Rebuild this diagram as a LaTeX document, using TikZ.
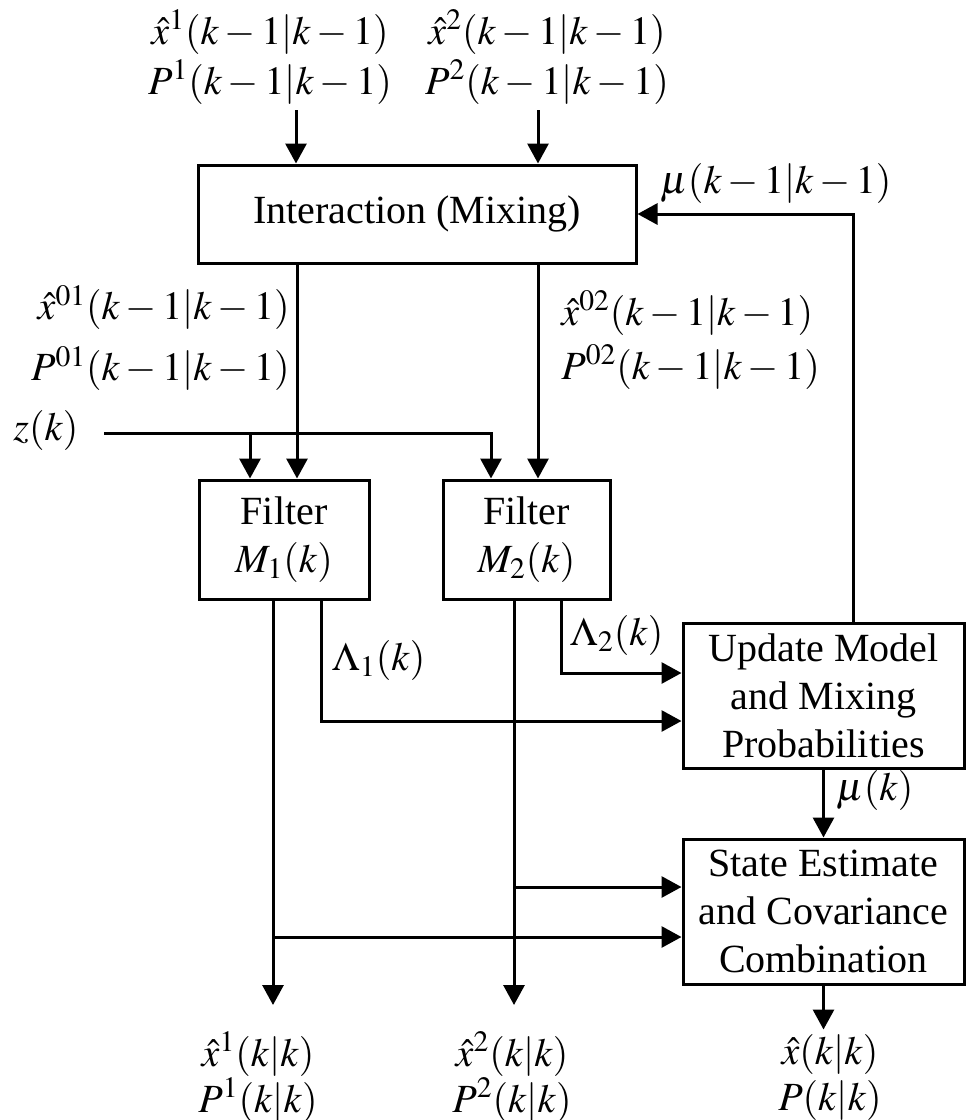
\documentclass[tikz,border=0pt]{standalone}
\usepackage{mathptmx}
\usepackage{fontspec}
\setmainfont{Liberation Serif}
\usepackage{tikz}
\usetikzlibrary{arrows.meta,positioning}

\begin{document}
\begin{tikzpicture}[
  x=0.5pt,y=-0.5pt,
  font=\fontsize{20}{24}\selectfont,
  block/.style={rectangle,draw,line width=1.5pt,align=center,inner sep=0pt},
  lbl/.style={inner sep=0pt,align=center},
  arrow/.style={-{Triangle[length=10pt,width=10.5pt]},line width=1.5pt}
]
\useasboundingbox (0,0) rectangle (966,1120);
\node[block,minimum width=219pt,minimum height=49pt] (mix) at (417,214) {Interaction (Mixing)};
\node[block,minimum width=85pt,minimum height=59.5pt] (filA) at (284,539.5) {Filter\\$M_1(k)$};
\node[block,minimum width=83.5pt,minimum height=59.5pt] (filB) at (526.5,539.5) {Filter\\$M_2(k)$};
\node[block,minimum width=140.5pt,minimum height=72.5pt] (upd) at (823.5,695.5) {Update Model\\and Mixing\\Probabilities};
\node[block,minimum width=140.5pt,minimum height=72.5pt] (est) at (823.5,911.5) {State Estimate\\and Covariance\\Combination};
\node[lbl] (inA) at (270,57) {$\hat{x}^1(k-1|k-1)$\\[1pt]$P^1(k-1|k-1)$};
\node[lbl] (inB) at (547,57) {$\hat{x}^2(k-1|k-1)$\\[1pt]$P^2(k-1|k-1)$};
\node[lbl] (mufb) at (776,183) {$\mu(k-1|k-1)$};
\node[lbl,anchor=east,align=right] (mixA) at (290,338) {$\hat{x}^{01}(k-1|k-1)$\\[6.5pt]$P^{01}(k-1|k-1)$};
\node[lbl,anchor=west,align=left] (mixB) at (561,340) {$\hat{x}^{02}(k-1|k-1)$\\[3pt]$P^{02}(k-1|k-1)$};
\node[lbl] (zk) at (46,430) {$z(k)$};
\node[lbl] (lamA) at (379,660) {$\Lambda_1(k)$};
\node[lbl] (lamB) at (617,635) {$\Lambda_2(k)$};
\node[lbl] (muk) at (875,790) {$\mu(k)$};
\node[lbl] (outA) at (258,1077) {$\hat{x}^1(k|k)$\\[-1pt]$P^1(k|k)$};
\node[lbl] (outB) at (512,1077) {$\hat{x}^2(k|k)$\\[-1pt]$P^2(k|k)$};
\node[lbl] (outC) at (830,1077) {$\hat{x}(k|k)$\\[-1pt]$P(k|k)$};
\coordinate (srcA) at (296,110);
\coordinate (srcB) at (538,110);
\coordinate (zsrc) at (104,433);
\coordinate (endA) at (273,1005);
\coordinate (endB) at (514,1005);
\draw[arrow] (srcA) -- (srcA |- mix.north);
\draw[arrow] (srcB) -- (srcB |- mix.north);
\draw[arrow] ([xshift=14.75pt]upd.north) |- (mix.east);
\draw[arrow] ([xshift=6.5pt]filA.north |- mix.south) -- ([xshift=6.5pt]filA.north);
\draw[arrow] ([xshift=5.75pt]filB.north |- mix.south) -- ([xshift=5.75pt]filB.north);
\draw[arrow] (zsrc) -| ([xshift=-17.75pt]filB.north);
\draw[arrow] ([xshift=-17pt]filA.north |- zsrc) -- ([xshift=-17pt]filA.north);
\draw[arrow] (endA |- filA.south) -- (endA);
\draw[arrow] (endB |- filB.south) -- (endB);
\draw[arrow] ([xshift=18.5pt]filA.south) |- ([yshift=-12.75pt]upd.west);
\draw[arrow] ([xshift=17.25pt]filB.south) |- ([yshift=11.25pt]upd.west);
\draw[arrow] (upd.south) -- (est.north);
\draw[arrow] ([yshift=12.25pt]est.west -| endB) -- ([yshift=12.25pt]est.west);
\draw[arrow] ([yshift=-12.75pt]est.west -| endA) -- ([yshift=-12.75pt]est.west);
\draw[arrow] (est.south) -- ++(0,44);
\end{tikzpicture}
\end{document}
